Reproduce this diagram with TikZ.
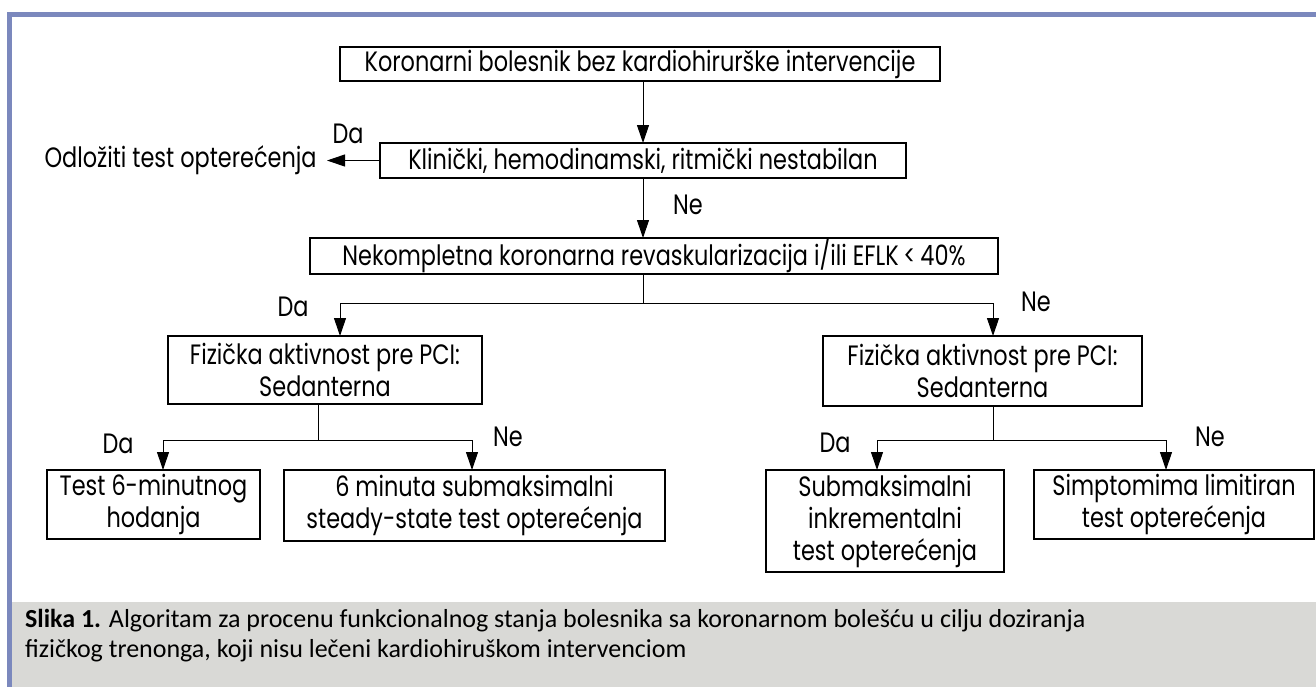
\documentclass[tikz,border=0pt]{standalone}
\usepackage{fontspec}
\setmainfont{Carlito}
\newfontfamily\gothic[FakeStretch=0.8]{Poppins}
\usetikzlibrary{arrows.meta,shadows}
\definecolor{frameblue}{HTML}{7B88BD}
\definecolor{capgray}{HTML}{D9D9D6}
\definecolor{shade}{HTML}{808080}

\begin{document}
\begin{tikzpicture}[x=0.5pt,y=-0.5pt,>={Triangle[length=9pt,width=6pt]},
  font=\gothic\fontsize{14}{16}\selectfont,
  box/.style={draw,line width=0.6pt,fill=white,inner sep=0pt,outer sep=0pt,align=center,
    drop shadow={shadow xshift=0.7pt,shadow yshift=-0.7pt,fill=shade,opacity=1}},
  arr/.style={->,line width=0.5pt},
  wire/.style={line width=0.5pt}]
% page, frame and caption band
\useasboundingbox (0,0) rectangle (1316,687);
\fill[white] (0,0) rectangle (1316,687);
\fill[capgray] (12,602) rectangle (1316,687);
\fill[frameblue] (7,12) rectangle (1316,17);
\fill[frameblue] (7,12) rectangle (12,687);
% decision chain
\node[box,minimum width=300pt,minimum height=17pt] (kor) at (640,64) {Koronarni bolesnik bez kardiohirurške intervencije};
\node[box,minimum width=263pt,minimum height=17.5pt] (klin) at (643,160.5) {Klinički, hemodinamski, ritmički nestabilan};
\node[anchor=east,inner xsep=5pt] (odl) at (327,160.5) {Odložiti test opterećenja};
\node[box,minimum width=344pt,minimum height=18pt] (nek) at (654,256) {Nekompletna koronarna revaskularizacija i/ili EFLK\,<\,40\%};
\node[box,minimum width=157pt,minimum height=34pt] (fizL) at (325,370) {Fizička aktivnost pre PCI:\\Sedanterna};
\node[box,minimum width=159.5pt,minimum height=35pt] (fizR) at (982.5,371) {Fizička aktivnost pre PCI:\\Sedanterna};
\node[box,minimum width=106.5pt,minimum height=34.5pt] (hod) at (153.5,504.5) {Test 6-minutnog\\hodanja};
\node[box,minimum width=190.5pt,minimum height=35.5pt] (ss) at (474.5,505.5) {6 minuta submaksimalni\\steady-state test opterećenja};
\node[box,minimum width=119pt,minimum height=51pt] (ink) at (885,521) {Submaksimalni\\inkrementalni\\test opterećenja};
\node[box,minimum width=140pt,minimum height=34.5pt] (simp) at (1174,504.5) {Simptomima limitiran\\test opterećenja};
% branch points
\coordinate (j1) at (643,303);
\coordinate (dL) at (340,303);
\coordinate (dR) at (993,303);
\coordinate (j2) at (318,440);
\coordinate (eL) at (163,440);
\coordinate (eR) at (472,440);
\coordinate (j3) at (993,440);
\coordinate (fL) at (877,440);
\coordinate (fR) at (1166,440);
% connectors
\draw[arr] (klin.north |- kor.south) -- (klin.north);
\draw[arr] (klin.west) -- (odl.east);
\draw[arr] (klin.south) -- (klin.south |- nek.north);
\draw[wire] (j1 |- nek.south) -- (j1);
\draw[arr] (j1) -- (dL) -- (dL |- fizL.north);
\draw[arr] (j1) -- (dR) -- (dR |- fizR.north);
\draw[wire] (j2 |- fizL.south) -- (j2);
\draw[arr] (j2) -- (eL) -- (eL |- hod.north);
\draw[arr] (j2) -- (eR) -- (eR |- ss.north);
\draw[wire] (j3 |- fizR.south) -- (j3);
\draw[arr] (j3) -- (fL) -- (fL |- ink.north);
\draw[arr] (j3) -- (fR) -- (fR |- simp.north);
% answers
\node (da1) at (348,134) {Da};
\node (ne1) at (688,205) {Ne};
\node (da2) at (293,307) {Da};
\node (ne2) at (1036,302) {Ne};
\node (da3) at (118,444) {Da};
\node (ne3) at (508,437) {Ne};
\node (da4) at (835,443) {Da};
\node (ne4) at (1210,437) {Ne};
% caption
\node[anchor=base west,font=\fontsize{13}{15}\selectfont] (cap1) at (18,627) {\textbf{Slika 1.} Algoritam za procenu funkcionalnog stanja bolesnika sa koronarnom bolešću u cilju doziranja};
\node[anchor=base west,font=\fontsize{13}{15}\selectfont] (cap2) at (18,657) {fizičkog trenonga, koji nisu lečeni kardiohiruškom intervenciom};
\end{tikzpicture}
\end{document}
